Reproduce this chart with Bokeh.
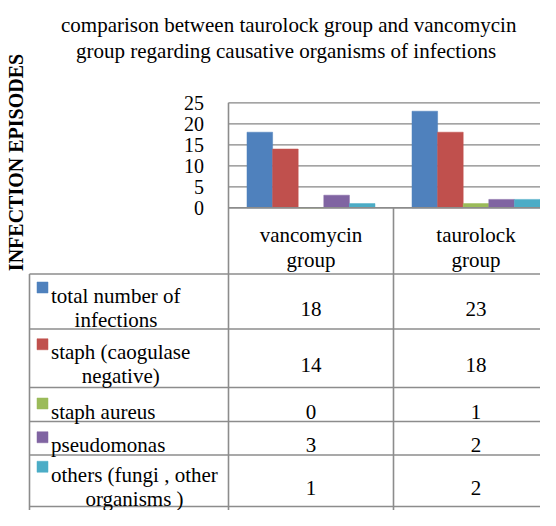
import math
from bokeh.plotting import figure
from bokeh.models import Range1d
from bokeh.core.properties import value
from bokeh.embed import file_html
from bokeh.resources import INLINE

# ---------------- data ----------------
TITLE_LINES = ["comparison between taurolock group and vancomycin",
               "group regarding  causative organisms of infections"]
Y_LABEL = "INFECTION EPISODES"
GROUPS = ["vancomycin\ngroup", "taurolock\ngroup"]
SERIES = ["total number of\ninfections",
          "staph (caogulase\nnegative)",
          "staph aureus",
          "pseudomonas",
          "others (fungi , other\norganisms )"]
TOTAL = [18, 23]
STAPH_CONS = [14, 18]
STAPH_AUREUS = [0, 1]
PSEUDOMONAS = [3, 2]
OTHERS = [1, 2]
Y_TICKS = [0, 5, 10, 15, 20, 25]
Y_TICK_LABELS = ["0", "5", "10", "15", "20", "25"]

VALUES = [TOTAL, STAPH_CONS, STAPH_AUREUS, PSEUDOMONAS, OTHERS]
COLORS = ["#4F81BD", "#C0504D", "#9BBB59", "#8064A2", "#4BACC6"]

# ---------------- layout (canvas pixels) ----------------
W, H = 540, 510
X0 = 228.0        # x of left edge of plot area (category 0 start)
CAT_W = 165.0     # px per category
Y0 = 207.3        # y of value 0
PXU = 4.2         # px per value unit
BAR_PX = 25.6

def dx(px):
    return (px - X0) / CAT_W

def dy(py):
    return (Y0 - py) / PXU

GRID_C = "#868686"
TAB_C = "#8C8C8C"

p = figure(width=W, height=H,
           x_range=Range1d(dx(0), dx(W)),
           y_range=Range1d(dy(H), dy(0)),
           x_axis_location=None, y_axis_location=None,
           min_border=0, output_backend="svg", toolbar_location=None)
p.grid.visible = False
p.outline_line_color = None
p.background_fill_color = "white"
p.border_fill_color = "white"


def txt(xs, ys, texts, size="21px", align="center", baseline="alphabetic",
        bold=False, angle=0.0):
    p.text(x=xs, y=ys, text=texts, angle=angle,
           text_font=value("Liberation Serif"), text_font_size=value(size),
           text_font_style="bold" if bold else "normal",
           text_align=align, text_baseline=baseline, text_color="black")


right = dx(W + 20)

# gridlines
p.segment(x0=[0] * len(Y_TICKS), x1=[right] * len(Y_TICKS), y0=Y_TICKS, y1=Y_TICKS,
          line_color=GRID_C, line_width=1.3)

# bars
bw = BAR_PX / CAT_W
n = len(VALUES)
for s, (vals, col) in enumerate(zip(VALUES, COLORS)):
    xs = [g + 0.5 + (s - (n - 1) / 2) * bw for g in range(len(GROUPS))]
    p.vbar(x=xs, top=vals, bottom=0, width=bw, fill_color=col,
           line_color=col, line_width=0.5)

# tick labels
txt([dx(203.5)] * len(Y_TICKS), Y_TICKS, Y_TICK_LABELS, size="20px",
    align="right", baseline="middle")

# title
for line, base in zip(TITLE_LINES, [24.5, 50.0]):
    txt([dx(288.2)], [dy(base)], [line])

# y label
txt([dx(15.5)], [dy(162)], [Y_LABEL], size="20px", bold=True,
    baseline="middle", angle=math.pi / 2)

# ---------------- data table ----------------
TAB_L = 29.0
ROW_EDGES = [273.5, 328.5, 387.0, 421.0, 454.5, 506.0]
LINE_GAP = 24.0
bottom = dy(H + 20)

# vertical lines
p.segment(x0=[0], x1=[0], y0=[25], y1=[bottom], line_color=TAB_C, line_width=1.6)
p.segment(x0=[1, 2], x1=[1, 2], y0=[0, 0], y1=[bottom, bottom], line_color=TAB_C, line_width=1.6)
p.segment(x0=[dx(TAB_L)], x1=[dx(TAB_L)], y0=[dy(ROW_EDGES[0])], y1=[bottom],
          line_color=TAB_C, line_width=1.6)
# horizontal lines
p.segment(x0=[0], x1=[right], y0=[0], y1=[0], line_color=TAB_C, line_width=1.6)
p.segment(x0=[dx(TAB_L)] * len(ROW_EDGES), x1=[right] * len(ROW_EDGES),
          y0=[dy(e) for e in ROW_EDGES], y1=[dy(e) for e in ROW_EDGES],
          line_color=TAB_C, line_width=1.6)

# header cells
hc = (Y0 + ROW_EDGES[0]) / 2
for g, name in enumerate(GROUPS):
    for k, line in enumerate(name.split("\n")):
        txt([g + 0.5], [dy(hc - 5.7 + 25 * k)], [line])

# row cells
TEXT_L = 50.5
LINE2_CX = [115.5, 120.2, None, None, 134.0]
for r, (name, vals, col) in enumerate(zip(SERIES, VALUES, COLORS)):
    c = (ROW_EDGES[r] + ROW_EDGES[r + 1]) / 2
    lines = name.split("\n")
    if len(lines) == 1:
        b1 = c + 7.0
    else:
        b1 = c - LINE_GAP / 2 + 6.0
    p.scatter(x=[dx(42.0)], y=[dy(b1 - 8.0)], marker="square", size=11,
              fill_color=col, line_color=col, line_width=0.5)
    txt([dx(TEXT_L)], [dy(b1)], [lines[0]], align="left")
    if len(lines) > 1:
        txt([dx(LINE2_CX[r])], [dy(b1 + LINE_GAP)], [lines[1]])
    txt([g + 0.5 for g in range(len(vals))], [dy(c + 7.0)] * len(vals),
        [str(v) for v in vals])

open("out.html", "w").write(file_html(p, INLINE))
